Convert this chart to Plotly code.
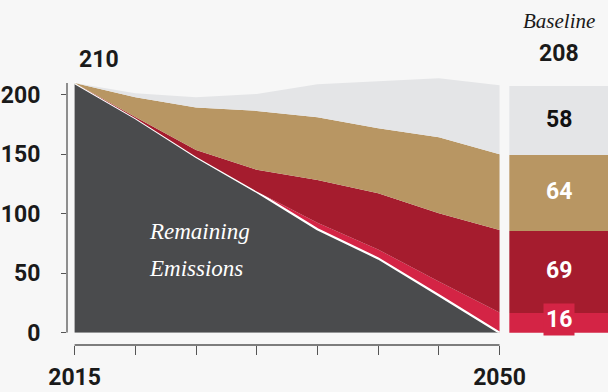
import plotly.graph_objects as go

years = [2015, 2020, 2025, 2030, 2035, 2040, 2045, 2050]
remaining = [210, 180.5, 148, 118.5, 87, 62.5, 31.5, 0]
layer_crimson = [0, 0, 0, 0.3, 5.5, 7.5, 11.5, 17]
layer_darkred = [0, 1, 5.8, 18.2, 36, 47.3, 57.5, 69.4]
layer_tan = [0, 16.5, 35.6, 49.6, 52.8, 54.7, 64, 63.8]
layer_grey = [0, 3.5, 8.6, 14.3, 27.7, 39.3, 49.5, 58]

baseline_labels = ["16", "69", "64", "58"]
baseline_values = [16, 69, 64, 58]
baseline_total = 208
start_value = 210

C_DARK = "#4a4b4d"
C_CRIMSON = "#d42445"
C_DARKRED = "#a51c2e"
C_TAN = "#b89663"
C_GREY = "#e4e5e7"
BG = "#f7f7f7"
NUM_FONT = "Roboto, Liberation Sans, sans-serif"
SERIF = "Liberation Serif, DejaVu Serif, serif"
FS = 23

fig = go.Figure()
layers = [
    (remaining, C_DARK, dict(color="white", width=2.2)),
    (layer_crimson, C_CRIMSON, dict(width=0)),
    (layer_darkred, C_DARKRED, dict(width=0)),
    (layer_tan, C_TAN, dict(width=0)),
    (layer_grey, C_GREY, dict(width=0)),
]
for vals, col, ln in layers:
    fig.add_trace(go.Scatter(x=years, y=vals, stackgroup="s", mode="lines",
                             line=ln, fillcolor=col, hoverinfo="skip",
                             xaxis="x", yaxis="y"))

bar_colors = [C_CRIMSON, C_DARKRED, C_TAN, C_GREY]
for v, col in zip(baseline_values, bar_colors):
    fig.add_trace(go.Bar(x=[0], y=[v], width=1, marker=dict(color=col, line=dict(width=0)),
                         xaxis="x2", yaxis="y", hoverinfo="skip"))

ydom = [0.15128, 0.8184]
xdom = [0.1102, 0.824]
axis_y_paper = 0.1199

fig.update_layout(
    width=608, height=392,
    margin=dict(l=0, r=0, t=0, b=0, autoexpand=False),
    paper_bgcolor=BG, plot_bgcolor="rgba(0,0,0,0)",
    showlegend=False, barmode="stack", bargap=0,
    xaxis=dict(domain=xdom, range=[2014.374, 2050.12], anchor="free", position=axis_y_paper,
               automargin=False,
               showgrid=False, zeroline=False, showline=False,
               tickvals=years, ticktext=["2015", "", "", "", "", "", "", "2050"],
               ticks="outside", ticklen=9, tickwidth=1.3, tickcolor="#555",
               ticklabelstandoff=2,
               tickfont=dict(family=NUM_FONT, size=FS, color="#1a1a1a", weight="bold")),
    xaxis2=dict(domain=[0.8377, 1.0], range=[-0.5, 0.5], anchor="y", automargin=False,
                showgrid=False, zeroline=False, showline=False, showticklabels=False, ticks=""),
    yaxis=dict(domain=ydom, range=[0, 220], showgrid=False, zeroline=False, showline=False,
               automargin=False,
               tickvals=[0, 50, 100, 150, 200], ticks="outside", ticklen=5, tickwidth=1.3,
               tickcolor="#555", ticklabelstandoff=16,
               tickfont=dict(family=NUM_FONT, size=FS, color="#1a1a1a", weight="bold")),
)

fig.add_shape(type="line", xref="paper", yref="y", x0=xdom[0], x1=xdom[0], y0=0, y1=start_value,
              line=dict(color="#555", width=1.3))
fig.add_shape(type="line", xref="x", yref="paper", x0=2015, x1=2050, y0=axis_y_paper, y1=axis_y_paper,
              line=dict(color="#555", width=1.3))

fig.add_annotation(x=2017, y=start_value, xref="x", yref="y", text="<b>210</b>", showarrow=False,
                   yshift=24, font=dict(family=NUM_FONT, size=FS, color="#1a1a1a"))
fig.add_annotation(x=0, y=baseline_total, xref="x2", yref="y", text="<b>%d</b>" % baseline_total,
                   showarrow=False, yshift=32, font=dict(family=NUM_FONT, size=FS, color="#1a1a1a"))
fig.add_annotation(x=0, y=baseline_total, xref="x2", yref="y", text="<i>Baseline</i>",
                   showarrow=False, yshift=64, font=dict(family=SERIF, size=21, color="#1a1a1a"))

cum = 0
label_colors = ["white", "white", "white", "#111"]
for i, (lab, v) in enumerate(zip(baseline_labels, baseline_values)):
    mid = cum + v / 2
    if i == 0:
        fig.add_annotation(x=0, y=mid, xref="x2", yref="y", text="<b>%s</b>" % lab, showarrow=False,
                           bgcolor=C_CRIMSON, borderpad=2, yshift=4,
                           font=dict(family=NUM_FONT, size=FS, color=label_colors[i]))
    else:
        fig.add_annotation(x=0, y=mid, xref="x2", yref="y", text="<b>%s</b>" % lab, showarrow=False,
                           yshift=2,
                           font=dict(family=NUM_FONT, size=FS, color=label_colors[i]))
    cum += v

fig.add_annotation(x=2021, y=85, xref="x", yref="y", xanchor="left",
                   text="<i>Remaining</i>", showarrow=False,
                   font=dict(family=SERIF, size=23, color="white"))
fig.add_annotation(x=2021, y=54, xref="x", yref="y", xanchor="left",
                   text="<i>Emissions</i>", showarrow=False,
                   font=dict(family=SERIF, size=23, color="white"))

fig.write_html("out.html", config={"displayModeBar": False},
               post_script="document.body.style.margin='0';document.body.style.background='%s';" % BG)
